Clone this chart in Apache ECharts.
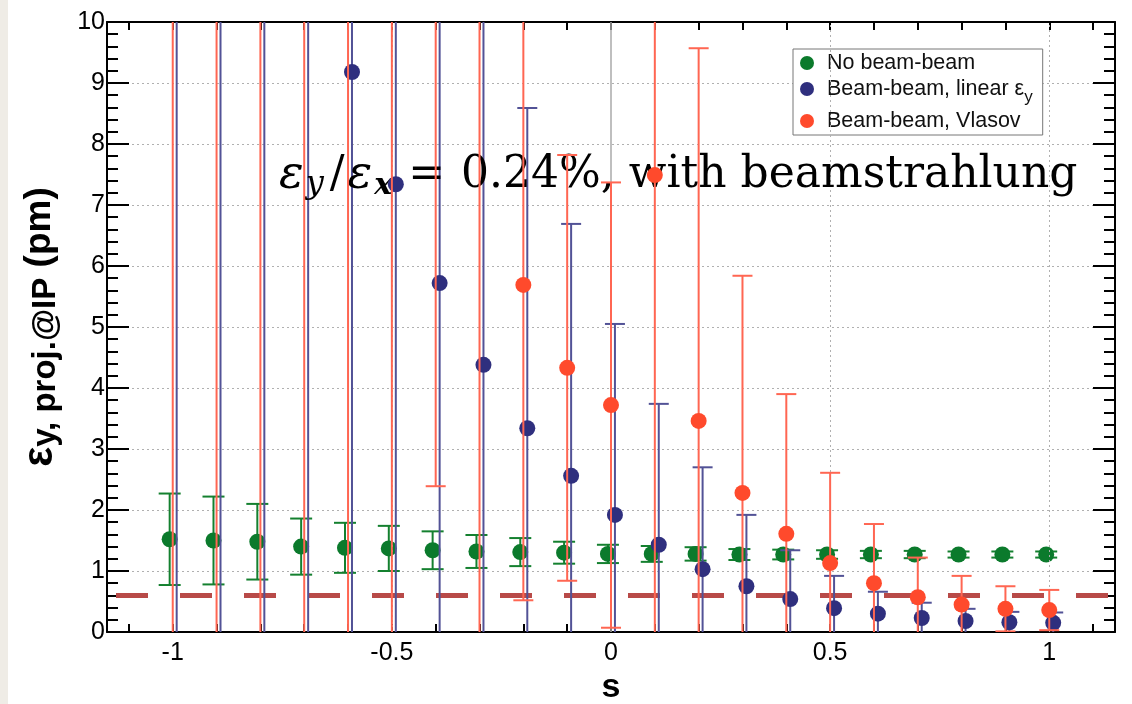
<!DOCTYPE html>
<html>
<head>
<meta charset="utf-8">
<script src="https://cdn.jsdelivr.net/npm/echarts@6/dist/echarts.min.js"></script>
<style>
html,body{margin:0;padding:0;background:#fff;}
#chart{width:1132px;height:704px;}
</style>
</head>
<body>
<div id="chart"></div>
<script>
// ---- data ----
const xVals = [-1,-0.9,-0.8,-0.7,-0.6,-0.5,-0.4,-0.3,-0.2,-0.1,0,0.1,0.2,0.3,0.4,0.5,0.6,0.7,0.8,0.9,1];
const noBB     = [1.52,1.50,1.48,1.40,1.38,1.37,1.34,1.32,1.31,1.30,1.28,1.28,1.28,1.27,1.27,1.27,1.27,1.27,1.27,1.27,1.27];
const noBBErr  = [0.75,0.72,0.62,0.46,0.41,0.37,0.31,0.27,0.23,0.18,0.15,0.13,0.11,0.09,0.08,0.07,0.06,0.06,0.05,0.05,0.05];
const linBB    = [24,19,15,12,9.18,7.34,5.72,4.38,3.34,2.56,1.92,1.43,1.03,0.75,0.54,0.39,0.30,0.23,0.18,0.16,0.15];
const linBBErr = [24.5,19.5,15.5,12.5,10,8,6.5,6.0,5.25,4.13,3.13,2.31,1.67,1.17,0.80,0.53,0.36,0.25,0.20,0.17,0.17];
const vlasov    = [30,26,22,18,15,13,11,10.6,5.69,4.33,3.72,7.49,3.46,2.28,1.61,1.13,0.80,0.57,0.45,0.38,0.36];
const vlasovErr = [30.5,26.5,22.5,18.5,15.5,13.5,8.61,11,5.17,3.49,3.65,8,6.11,3.56,2.29,1.48,0.97,0.65,0.47,0.37,0.33];
const refLevel = [0.6];
const xLabelValues = [-1,-0.5,0,0.5,1];
const xTickValues = [-1.1,-1,-0.9,-0.8,-0.7,-0.6,-0.5,-0.4,-0.3,-0.2,-0.1,0,0.1,0.2,0.3,0.4,0.5,0.6,0.7,0.8,0.9,1,1.1];
const seriesNames = ['No beam-beam','Beam-beam, linear εy','Beam-beam, Vlasov'];

// ---- style ----
const COL = {green:'#0b7a2c', blue:'#2f2f7e', red:'#ff4a2c'};
const BAR = {green:'#14802f', blue:'#525296', red:'#ff6652'};
const OFF = {green:-0.007, blue:0.009, red:0};
const SANS = 'Liberation Sans, Arial, Helvetica, sans-serif';

function pts(vals, off){ return xVals.map((x,i)=>[x+off, vals[i]]); }
function errData(vals, errs, off){ return xVals.map((x,i)=>[x+off, vals[i], errs[i]]); }

function errSeries(name, vals, errs, off, color, capHalf, z){
  return {
    type:'custom', name:name, clip:true, silent:true, z:z,
    data: errData(vals, errs, off),
    encode:{x:0, y:1},
    renderItem: function(params, api){
      const x = api.value(0), y = api.value(1), e = api.value(2);
      const top = api.coord([x, y+e]);
      const bot = api.coord([x, y-e]);
      const st = {stroke:color, lineWidth:2};
      return {type:'group', children:[
        {type:'line', shape:{x1:top[0], y1:top[1], x2:bot[0], y2:bot[1]}, style:st},
        {type:'line', shape:{x1:top[0]-capHalf, y1:top[1], x2:top[0]+capHalf, y2:top[1]}, style:st},
        {type:'line', shape:{x1:bot[0]-capHalf, y1:bot[1], x2:bot[0]+capHalf, y2:bot[1]}, style:st}
      ]};
    }
  };
}

function dotSeries(name, vals, off, color, z){
  return {type:'scatter', name:name, data:pts(vals, off), symbol:'circle', symbolSize:16,
    itemStyle:{color:color, opacity:1}, z:z, clip:true, silent:true};
}

const chart = echarts.init(document.getElementById('chart'), null, {renderer:'canvas'});

const SERIF = 'DejaVu Serif';
const option = {
  backgroundColor:'#ffffff',
  animation:false,
  grid:{left:107, right:17, top:22, bottom:72, outerBoundsMode:'none', containLabel:false},
  title:[{
    left:274, top:146,
    text:'{i|ε}{s|y}{sl|/}{i|ε}{sx|x}{eq|=}{n|0.24%, with beamstrahlung}',
    textStyle:{
      fontWeight:'normal',
      rich:{
        i:{fontFamily:SERIF, fontStyle:'italic', fontWeight:'normal', fontSize:46, color:'#000', lineHeight:50},
        sl:{fontFamily:SERIF, fontWeight:'normal', fontSize:44, color:'#000', lineHeight:50, padding:[0,3,0,3]},
        eq:{fontFamily:SERIF, fontWeight:'normal', fontSize:44, color:'#000', lineHeight:50, padding:[0,16,0,0]},
        n:{fontFamily:SERIF, fontWeight:'normal', fontSize:44, color:'#000', lineHeight:50},
        s:{fontFamily:SERIF, fontStyle:'italic', fontWeight:'normal', fontSize:32, color:'#000', lineHeight:26, verticalAlign:'bottom', padding:[0,3,0,2]},
        sx:{fontFamily:SERIF, fontStyle:'italic', fontWeight:'bold', fontSize:30, color:'#000', lineHeight:26, verticalAlign:'bottom', padding:[0,16,0,2]}
      }
    }
  }],
  legend:{
    show:true, orient:'vertical', left:793, top:49,
    data:seriesNames,
    icon:'circle', itemWidth:14, itemHeight:14, itemGap:4,
    borderColor:'#777', borderWidth:1, borderRadius:0, padding:[3,10,3,7],
    backgroundColor:'#fff',
    textStyle:{fontFamily:SANS, fontSize:21, color:'#111',
      rich:{
        t:{fontFamily:SANS, fontSize:21.5, color:'#111', lineHeight:22, padding:[0,0,0,8]},
        t2:{fontFamily:SANS, fontSize:21.5, color:'#111', lineHeight:34, padding:[0,0,0,8]},
        sub:{fontFamily:SANS, fontSize:17, color:'#111', lineHeight:18, verticalAlign:'bottom'}
      }},
    formatter:function(n){ return n.endsWith('εy') ? '{t2|'+n.slice(0,-1)+'}{sub|y}' : '{t|'+n+'}'; },
    selectedMode:false
  },
  xAxis:[{
    type:'value', position:'bottom', min:-1.15, max:1.15,
    name:'s', nameLocation:'middle', nameGap:33,
    nameTextStyle:{fontFamily:SANS, fontWeight:'bold', fontSize:34, color:'#000'},
    axisLine:{show:true, onZero:false, lineStyle:{color:'#000', width:2}},
    axisTick:{show:true, inside:true, length:8, customValues:xTickValues, lineStyle:{color:'#000', width:2}},
    axisLabel:{show:true, customValues:xLabelValues, margin:9, fontFamily:SANS, fontSize:25, color:'#000',
      formatter:function(v){ return String(Math.round(v*10)/10); }},
    splitLine:{show:false}
  },{
    type:'value', position:'top', min:-1.15, max:1.15,
    axisLine:{show:true, onZero:false, lineStyle:{color:'#000', width:2}},
    axisTick:{show:true, inside:true, length:8, customValues:xTickValues, lineStyle:{color:'#000', width:2}},
    axisLabel:{show:false}, splitLine:{show:false}
  }],
  yAxis:[{
    type:'value', position:'left', min:0, max:10, interval:1,
    name:'{e|ε}{s|y, proj.@IP}{p| (pm)}', nameLocation:'middle', nameGap:45, nameRotate:90,
    nameTextStyle:{rich:{
      e:{fontFamily:SANS, fontWeight:'bold', fontSize:42, color:'#000', lineHeight:44},
      s:{fontFamily:SANS, fontWeight:'bold', fontSize:33, color:'#000', lineHeight:30, verticalAlign:'bottom'},
      p:{fontFamily:SANS, fontWeight:'bold', fontSize:37, color:'#000', lineHeight:44}
    }},
    axisLine:{show:true, onZero:false, lineStyle:{color:'#000', width:2}},
    axisTick:{show:true, inside:true, length:22, lineStyle:{color:'#000', width:2}},
    minorTick:{show:true, splitNumber:5, length:11, lineStyle:{color:'#000', width:2}},
    axisLabel:{show:true, margin:2, fontFamily:SANS, fontSize:25, color:'#000'},
    splitLine:{show:true, lineStyle:{color:'#b0b0b0', width:1, type:[2,3]}},
    minorSplitLine:{show:false}
  },{
    type:'value', position:'right', min:0, max:10, interval:1,
    axisLine:{show:true, onZero:false, lineStyle:{color:'#000', width:2}},
    axisTick:{show:true, inside:true, length:22, lineStyle:{color:'#000', width:2}},
    minorTick:{show:true, splitNumber:5, length:11, lineStyle:{color:'#000', width:2}},
    axisLabel:{show:false}, splitLine:{show:false}
  }],
  graphic:[
    {type:'rect', left:0, top:0, shape:{width:8, height:704}, style:{fill:'#efece6'}, silent:true, z:-10}
  ],
  series:[
    {
      type:'line', name:'grid', data:[], silent:true, z:1,
      markLine:{
        silent:true, symbol:['none','none'], label:{show:false},
        data:[
          {xAxis:-1, lineStyle:{color:'#b0b0b0', width:1, type:[2,3]}},
          {xAxis:-0.5, lineStyle:{color:'#b0b0b0', width:1, type:[2,3]}},
          {xAxis:0, lineStyle:{color:'#aaaaaa', width:1.5, type:'solid'}},
          {xAxis:0.5, lineStyle:{color:'#b0b0b0', width:1, type:[2,3]}},
          {xAxis:1, lineStyle:{color:'#b0b0b0', width:1, type:[2,3]}}
        ]
      }
    },
    {
      type:'line', name:'ref', data:[], silent:true, z:2,
      markLine:{
        silent:true, symbol:['none','none'], label:{show:false},
        lineStyle:{color:'#b84a48', width:5, type:[32,32], dashOffset:55},
        data:[{yAxis:refLevel[0]}]
      }
    },
    errSeries('errG', noBB, noBBErr, OFF.green, BAR.green, 11, 3),
    dotSeries(seriesNames[0], noBB, OFF.green, COL.green, 4),
    errSeries('errB', linBB, linBBErr, OFF.blue, BAR.blue, 10, 5),
    dotSeries(seriesNames[1], linBB, OFF.blue, COL.blue, 6),
    errSeries('errR', vlasov, vlasovErr, OFF.red, BAR.red, 10, 7),
    dotSeries(seriesNames[2], vlasov, OFF.red, COL.red, 8)
  ]
};
chart.setOption(option);
</script>
</body>
</html>
